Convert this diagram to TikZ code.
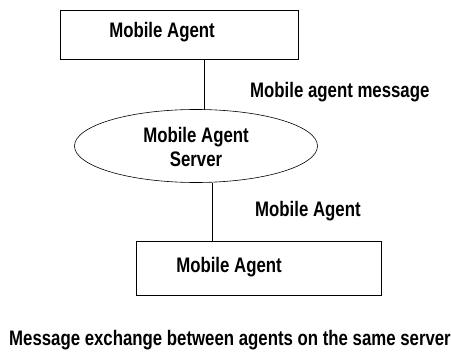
\documentclass[tikz,border=0pt]{standalone}
\usepackage{fontspec}
\setmainfont{Liberation Sans}[FakeStretch=0.8]
\usetikzlibrary{shapes.geometric}
\begin{document}
\begin{tikzpicture}[x=1pt,y=-1pt,
  lbl/.style={font=\fontsize{21}{23}\selectfont\bfseries, inner sep=0pt},
  box/.style={draw, line width=0.9pt, inner sep=0pt},
  conn/.style={draw, line width=0.9pt}]
\useasboundingbox[fill=white] (0,0) rectangle (451,353);
\node[box, minimum width=238pt, minimum height=49pt] (top) at (179,34.5) {};
\node[lbl] (toptxt) at (162,32) {Mobile Agent};
\node[ellipse, draw, line width=0.6pt, minimum width=243pt, minimum height=73pt, inner sep=0pt] (srv) at (196,146) {};
\node[lbl, align=center] (srvtxt) at (196,147) {Mobile Agent\\[1pt]Server};
\node[box, minimum width=245pt, minimum height=54pt] (bot) at (258.5,268) {};
\node[lbl] (bottxt) at (229,267) {Mobile Agent};
\coordinate (a1) at (204,59);
\coordinate (a2) at (204,110);
\draw[conn] (a1) -- (a2);
\coordinate (b1) at (212,183);
\coordinate (b2) at (212,241);
\draw[conn] (b1) -- (b2);
\node[lbl, anchor=west] (m1) at (250,92) {Mobile agent message};
\node[lbl, anchor=west] (m2) at (255,211) {Mobile Agent};
\node[lbl] (cap) at (230,340) {Message exchange between agents on the same server};
\end{tikzpicture}
\end{document}
